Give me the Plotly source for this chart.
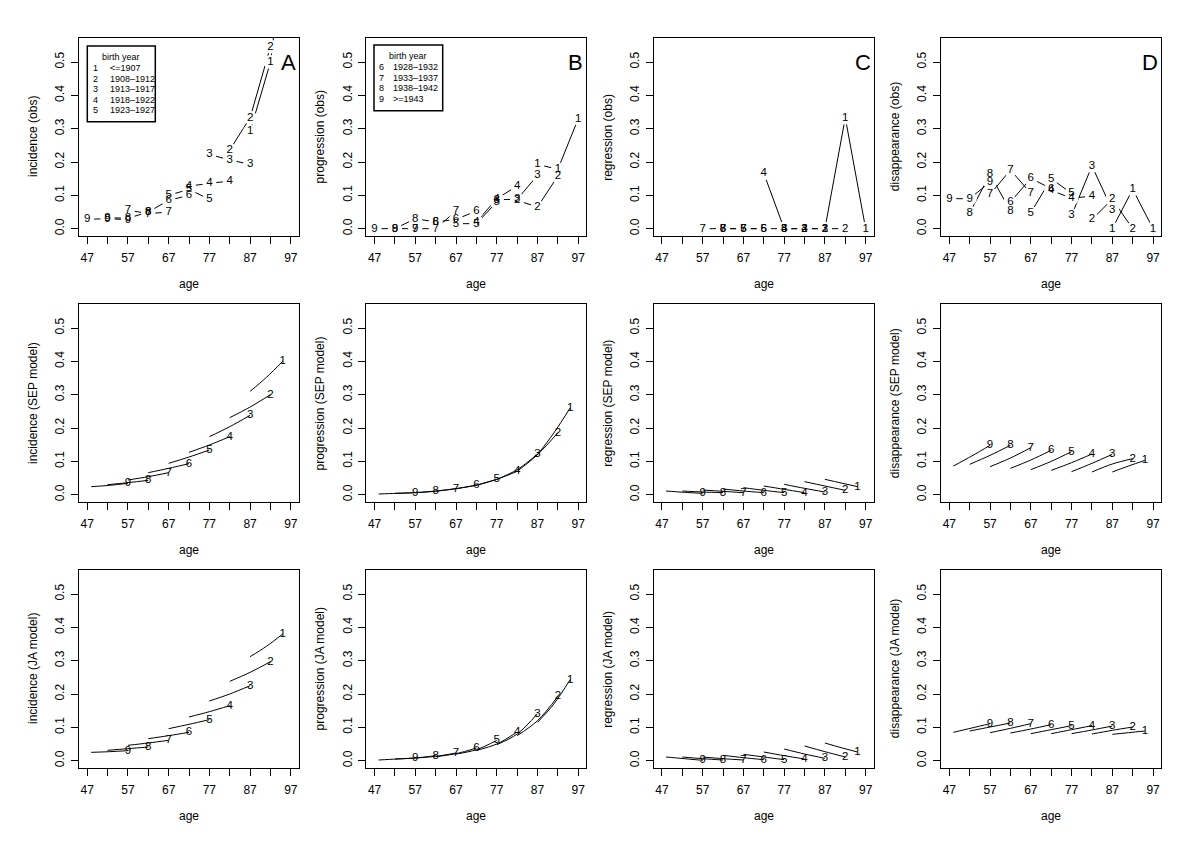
import plotly.graph_objects as go

# birth cohorts 1..9 (oldest first)
cohorts = ["1", "2", "3", "4", "5", "6", "7", "8", "9"]
birth_years = ["&lt;=1907", "1908–1912", "1913–1917", "1918–1922", "1923–1927",
               "1928–1932", "1933–1937", "1938–1942", "&gt;=1943"]

# observed rates at the three survey ages of each cohort
obs_ages = [[87, 92, 97], [82, 87, 92], [77, 82, 87], [72, 77, 82], [67, 72, 77],
            [62, 67, 72], [57, 62, 67], [52, 57, 62], [47, 52, 57]]
inc_obs = [[0.292, 0.50, 1.0], [0.236, 0.333, 0.546], [0.223, 0.206, 0.193],
           [0.128, 0.136, 0.143], [0.10, 0.118, 0.088], [0.05, 0.085, 0.10],
           [0.056, 0.045, 0.05], [0.033, 0.031, 0.05], [0.028, 0.030, 0.027]]
prog_obs = [[0.193, 0.178, 0.33], [0.085, 0.065, 0.158], [0.087, 0.088, 0.16],
            [0.02, 0.09, 0.128], [0.015, 0.015, 0.08], [0.02, 0.028, 0.053],
            [0.0, 0.0, 0.053], [0.0, 0.03, 0.02], [0.0, 0.0, 0.0]]
reg_obs = [[0.0, 0.333, 0.0], [0.0, 0.0, 0.0], [0.0, 0.0, 0.0],
           [0.166, 0.0, 0.0], [0.0, 0.0, 0.0], [0.0, 0.0, 0.0],
           [0.0, 0.0, 0.0], [None, None, 0.0], [None, None, None]]
dis_obs = [[0.0, 0.118, 0.0], [0.028, 0.088, 0.0], [0.04, 0.188, 0.056],
           [0.115, 0.091, 0.098], [0.048, 0.15, 0.106], [0.08, 0.151, 0.12],
           [0.103, 0.176, 0.106], [0.048, 0.163, 0.053], [0.09, 0.09, 0.14]]

# model predictions (start, middle, end of each cohort's age span)
model_ages = [[87, 91, 95], [82, 87, 92], [77, 82, 87], [72, 77, 82], [67, 72, 77],
              [62, 67, 72], [57, 62, 67], [52, 57, 62], [48, 52.5, 57]]
inc_sep = [[0.31, 0.352, 0.40], [0.231, 0.263, 0.30], [0.174, 0.204, 0.238],
           [0.127, 0.149, 0.174], [0.094, 0.113, 0.134], [0.066, 0.079, 0.093],
           [0.044, 0.054, 0.066], [0.030, 0.036, 0.043], [0.024, 0.028, 0.034]]
prog_sep = [[0.12, 0.185, 0.26], [0.07, 0.12, 0.186], [0.046, 0.075, 0.122],
            [0.028, 0.046, 0.07], [0.018, 0.029, 0.046], [0.01, 0.018, 0.028],
            [0.006, 0.011, 0.018], [0.004, 0.006, 0.01], [0.002, 0.004, 0.006]]
reg_sep = [[0.046, 0.035, 0.024], [0.039, 0.026, 0.013], [0.031, 0.019, 0.008],
           [0.026, 0.016, 0.006], [0.021, 0.013, 0.006], [0.017, 0.011, 0.006],
           [0.014, 0.010, 0.006], [0.011, 0.008, 0.006], [0.011, 0.007, 0.004]]
dis_sep = [[0.068, 0.086, 0.103], [0.068, 0.092, 0.108], [0.069, 0.094, 0.121],
           [0.073, 0.096, 0.122], [0.075, 0.10, 0.129], [0.079, 0.104, 0.133],
           [0.084, 0.11, 0.141], [0.091, 0.118, 0.148], [0.086, 0.116, 0.148]]
inc_ja = [[0.312, 0.343, 0.38], [0.238, 0.265, 0.297], [0.179, 0.20, 0.225],
          [0.131, 0.147, 0.165], [0.096, 0.109, 0.123], [0.066, 0.075, 0.085],
          [0.046, 0.053, 0.061], [0.031, 0.036, 0.041], [0.025, 0.027, 0.030]]
prog_ja = [[0.115, 0.17, 0.243], [0.075, 0.12, 0.193], [0.048, 0.08, 0.141],
           [0.031, 0.05, 0.086], [0.02, 0.033, 0.061], [0.012, 0.021, 0.038],
           [0.008, 0.013, 0.023], [0.005, 0.008, 0.015], [0.002, 0.005, 0.008]]
reg_ja = [[0.053, 0.039, 0.026], [0.044, 0.027, 0.011], [0.035, 0.02, 0.007],
          [0.026, 0.015, 0.005], [0.019, 0.011, 0.003], [0.016, 0.009, 0.003],
          [0.011, 0.006, 0.002], [0.011, 0.006, 0.002], [0.011, 0.006, 0.001]]
dis_ja = [[0.079, 0.084, 0.089], [0.08, 0.091, 0.101], [0.081, 0.092, 0.104],
          [0.081, 0.093, 0.105], [0.081, 0.093, 0.105], [0.083, 0.095, 0.108],
          [0.084, 0.097, 0.111], [0.089, 0.101, 0.113], [0.085, 0.098, 0.111]]

rates = ["incidence", "progression", "regression", "disappearance"]
sources = ["obs", "SEP model", "JA model"]
panels = [
    [inc_obs, prog_obs, reg_obs, dis_obs],
    [inc_sep, prog_sep, reg_sep, dis_sep],
    [inc_ja, prog_ja, reg_ja, dis_ja],
]

FONT = "Liberation Sans, Arial, sans-serif"
# page body has an 8px margin, so the figure is drawn 8px in from the corner
W, H = 1192, 840
COL_LEFT = [71 + 287.4 * c for c in range(4)]
ROW_TOP = [30, 296, 562]
PW, PH = 220, 198

fig = go.Figure()
layout = {}
annotations = []
shapes = []

for r in range(3):
    for c in range(4):
        p = r * 4 + c
        sfx = "" if p == 0 else str(p + 1)
        xa, ya = "x" + sfx, "y" + sfx
        data = panels[r][c]

        if r == 0:
            for i in range(9):
                fig.add_trace(go.Scatter(
                    x=obs_ages[i], y=data[i], mode="lines",
                    line=dict(color="black", width=1),
                    xaxis=xa, yaxis=ya, hoverinfo="skip",
                ))
            px, py, pt = [], [], []
            for i in range(9):
                for a, v in zip(obs_ages[i], data[i]):
                    if v is not None:
                        px.append(a)
                        py.append(v)
                        pt.append(cohorts[i])
            fig.add_trace(go.Scatter(
                x=px, y=py, text=pt, mode="markers+text",
                marker=dict(color="white", size=14, line_width=0),
                textposition="middle center",
                textfont=dict(family=FONT, size=11.5, color="black"),
                xaxis=xa, yaxis=ya, hoverinfo="skip",
            ))
        else:
            for i in range(9):
                fig.add_trace(go.Scatter(
                    x=model_ages[i], y=data[i], mode="lines",
                    line=dict(color="black", width=1, shape="spline"),
                    xaxis=xa, yaxis=ya, hoverinfo="skip",
                ))
            fig.add_trace(go.Scatter(
                x=[a[-1] for a in model_ages], y=[v[-1] for v in data],
                text=cohorts, mode="text", textposition="middle center",
                textfont=dict(family=FONT, size=11.5, color="black"),
                xaxis=xa, yaxis=ya, hoverinfo="skip",
            ))

        x0 = COL_LEFT[c] / W
        y1 = 1 - ROW_TOP[r] / H
        layout["xaxis" + sfx] = dict(
            domain=[x0, x0 + PW / W], anchor=ya, range=[45, 99],
            tickmode="linear", tick0=47, dtick=10,
            ticks="outside", ticklen=7, tickwidth=1, tickcolor="black",
            minor=dict(tick0=47, dtick=5, ticks="outside", ticklen=7,
                       tickwidth=1, tickcolor="black", showgrid=False),
            showline=True, linecolor="black", linewidth=1.2, mirror=True,
            showgrid=False, zeroline=False, ticklabelstandoff=3,
            tickfont=dict(family=FONT, size=12, color="black"),
        )
        layout["yaxis" + sfx] = dict(
            domain=[y1 - PH / H, y1], anchor=xa, range=[-0.022, 0.572],
            tickvals=[0, 0.1, 0.2, 0.3, 0.4, 0.5], tickformat=".1f",
            tickangle=-90, ticks="outside", ticklen=7, tickwidth=1,
            tickcolor="black", showline=True, linecolor="black",
            linewidth=1.2, mirror=True, showgrid=False, zeroline=False,
            ticklabelstandoff=2,
            tickfont=dict(family=FONT, size=12, color="black"),
        )
        annotations.append(dict(
            xref=xa + " domain", yref=ya + " domain", x=0.5, y=0, yshift=-48,
            text="age", showarrow=False, yanchor="middle",
            font=dict(family=FONT, size=12, color="black"),
        ))
        annotations.append(dict(
            xref=xa + " domain", yref=ya + " domain", x=0, y=0.5, xshift=-46,
            text=f"{rates[c]} ({sources[r]})", textangle=-90, showarrow=False,
            xanchor="center", font=dict(family=FONT, size=12, color="black"),
        ))
        if r == 0:
            annotations.append(dict(
                xref=xa + " domain", yref=ya + " domain", x=1, y=0.874,
                xshift=-1, text="ABCD"[c], showarrow=False,
                xanchor="right", yanchor="middle",
                font=dict(family=FONT, size=22, color="black"),
            ))


def dom(dx, dy):
    # pixel offset from a panel's top-left corner -> axis-domain fraction
    return dx / PW, 1 - dy / PH


# birth-year legends in panels A and B (box, number x, label x, title x, title y)
legend_boxes = [(0, 8.3, 76.3, 8, 83.7, 16.7, 29.3, 42.3, 19.5, range(0, 5)),
                (1, 7.6, 76.3, 7, 72.7, 14.6, 24.6, 41.9, 18.5, range(5, 9))]
for c, bx0, bx1, by0, by1, nx, lx, tx, ty, idx in legend_boxes:
    sfx = "" if c == 0 else str(c + 1)
    xr, yr = "x" + sfx + " domain", "y" + sfx + " domain"
    fx0, fy1 = dom(bx0, by0)
    fx1, fy0 = dom(bx1, by1)
    shapes.append(dict(type="rect", xref=xr, yref=yr, x0=fx0, x1=fx1,
                       y0=fy0, y1=fy1, line=dict(color="black", width=1.5)))
    ftx, fty = dom(tx, ty)
    annotations.append(dict(xref=xr, yref=yr, x=ftx, y=fty, text="birth year",
                            showarrow=False, xanchor="center", yanchor="middle",
                            font=dict(family=FONT, size=9, color="black")))
    for k, i in enumerate(idx):
        yy = ty + 10.6 * (k + 1)
        fnx, fyy = dom(nx, yy)
        flx, _ = dom(lx, yy)
        annotations.append(dict(xref=xr, yref=yr, x=fnx, y=fyy, text=cohorts[i],
                                showarrow=False, xanchor="center", yanchor="middle",
                                font=dict(family=FONT, size=9, color="black")))
        annotations.append(dict(xref=xr, yref=yr, x=flx, y=fyy, text=birth_years[i],
                                showarrow=False, xanchor="left", yanchor="middle",
                                font=dict(family=FONT, size=9, color="black")))

fig.update_layout(
    width=W, height=H, margin=dict(l=0, r=0, t=0, b=0),
    paper_bgcolor="white", plot_bgcolor="white", showlegend=False,
    annotations=annotations, shapes=shapes, **layout,
)

fig.write_html("out.html")
